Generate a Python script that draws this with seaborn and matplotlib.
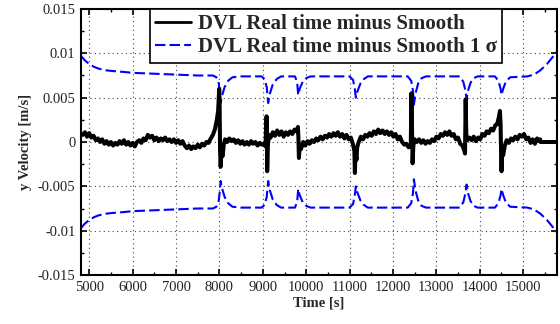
import numpy as np
import pandas as pd
import matplotlib
matplotlib.use("Agg")
import matplotlib.pyplot as plt
import matplotlib.ticker as mticker
from matplotlib.lines import Line2D
import seaborn as sns

# ---- data ----
time_s = [4850, 4900, 4950, 5000, 5050, 5100, 5150, 5200, 5250, 5300, 5350, 5400, 5450, 5500,
          5550, 5600, 5650, 5700, 5750, 5800, 5850, 5900, 5950, 6000, 6050, 6100, 6150, 6200,
          6250, 6300, 6350, 6400, 6450, 6500, 6550, 6600, 6650, 6700, 6750, 6800, 6850, 6900,
          6950, 7000, 7050, 7100, 7150, 7200, 7250, 7300, 7350, 7400, 7450, 7500, 7550, 7600,
          7650, 7700, 7750, 7800, 7850, 7900, 7940, 7970, 7995, 8005, 8015, 8028, 8045, 8074,
          8100, 8130, 8180, 8230, 8280, 8330, 8380, 8430, 8480, 8530, 8580, 8630, 8680, 8730,
          8780, 8830, 8880, 8930, 8980, 9030, 9060, 9087, 9095, 9101, 9115, 9140, 9180, 9230,
          9280, 9330, 9380, 9430, 9480, 9530, 9580, 9630, 9680, 9730, 9780, 9810, 9820, 9832,
          9850, 9880, 9930, 9980, 10030, 10080, 10130, 10180, 10230, 10280, 10330, 10380, 10430,
          10480, 10530, 10580, 10630, 10680, 10730, 10780, 10830, 10880, 10930, 10980, 11030,
          11080, 11110, 11122, 11135, 11160, 11175, 11210, 11260, 11310, 11360, 11410, 11460,
          11510, 11560, 11610, 11660, 11710, 11760, 11810, 11860, 11910, 11960, 12010, 12060,
          12110, 12160, 12210, 12260, 12310, 12360, 12410, 12425, 12440, 12452, 12470, 12500,
          12550, 12600, 12650, 12700, 12750, 12800, 12850, 12900, 12950, 13000, 13050, 13100,
          13150, 13200, 13250, 13300, 13350, 13400, 13450, 13500, 13550, 13600, 13640, 13660,
          13675, 13690, 13710, 13760, 13810, 13860, 13910, 13960, 14010, 14060, 14110, 14160,
          14210, 14260, 14310, 14360, 14400, 14440, 14465, 14480, 14490, 14502, 14515, 14540,
          14578, 14620, 14670, 14720, 14770, 14820, 14870, 14920, 14970, 15020, 15070, 15120,
          15170, 15220, 15270, 15320, 15370, 15390, 15400, 15780]
diff_v = [0.0008, 0.0011, 0.0006, 0.0010, 0.0005, 0.0007, 0.0002, 0.0004, 0.0000, 0.0003, -0.0002,
          0.0001, -0.0003, 0.0000, -0.0004, -0.0001, -0.0003, 0.0001, -0.0002, 0.0002, -0.0003,
          0.0000, -0.0004, -0.0001, -0.0005, 0.0000, 0.0002, -0.0001, 0.0004, 0.0002, 0.0008,
          0.0005, 0.0007, 0.0002, 0.0005, 0.0001, 0.0004, 0.0002, 0.0005, 0.0001, 0.0003, 0.0000,
          0.0003, -0.0001, 0.0002, -0.0002, 0.0001, -0.0004, -0.0007, -0.0004, -0.0008, -0.0005,
          -0.0007, -0.0003, -0.0006, -0.0002, -0.0004, 0.0000, -0.0001, 0.0004, 0.0008, 0.0015,
          0.0025, 0.0035, 0.0060, 0.0040, -0.0010, -0.0028, -0.0012, -0.0016, -0.0003, 0.0003,
          0.0000, 0.0004, 0.0001, 0.0003, -0.0001, 0.0002, -0.0002, 0.0001, -0.0003, 0.0000,
          -0.0003, 0.0001, -0.0002, 0.0000, -0.0004, -0.0001, -0.0003, -0.0002, -0.0005, 0.0029,
          0.0010, -0.0033, -0.0005, 0.0008, 0.0005, 0.0011, 0.0007, 0.0013, 0.0008, 0.0012,
          0.0006, 0.0011, 0.0008, 0.0012, 0.0009, 0.0014, 0.0012, 0.0017, 0.0005, -0.0018,
          -0.0004, -0.0008, 0.0000, -0.0004, 0.0001, -0.0002, 0.0002, 0.0000, 0.0004, 0.0002,
          0.0006, 0.0003, 0.0007, 0.0005, 0.0009, 0.0006, 0.0010, 0.0007, 0.0011, 0.0006, 0.0009,
          0.0004, 0.0008, 0.0003, 0.0005, -0.0003, -0.0010, -0.0035, -0.0012, -0.0020, -0.0006,
          0.0000, 0.0006, 0.0003, 0.0008, 0.0006, 0.0010, 0.0007, 0.0012, 0.0009, 0.0014, 0.0010,
          0.0013, 0.0009, 0.0012, 0.0008, 0.0011, 0.0006, 0.0009, 0.0003, 0.0006, 0.0000,
          -0.0003, -0.0002, -0.0006, -0.0004, 0.0055, 0.0010, -0.0024, -0.0004, 0.0003, 0.0000,
          0.0003, -0.0001, 0.0002, -0.0002, 0.0001, -0.0001, 0.0003, 0.0001, 0.0006, 0.0004,
          0.0009, 0.0007, 0.0011, 0.0008, 0.0012, 0.0007, 0.0009, 0.0003, 0.0005, -0.0002,
          -0.0004, -0.0009, -0.0013, 0.0048, 0.0008, 0.0002, 0.0005, 0.0002, 0.0006, 0.0001,
          0.0005, 0.0003, 0.0009, 0.0007, 0.0012, 0.0010, 0.0015, 0.0013, 0.0019, 0.0020, 0.0028,
          0.0035, 0.0020, -0.0010, -0.0033, -0.0010, -0.0015, -0.0004, 0.0002, -0.0001, 0.0004,
          0.0002, 0.0006, 0.0003, 0.0008, 0.0006, 0.0009, 0.0003, 0.0005, -0.0001, 0.0003,
          -0.0002, 0.0004, 0.0001, 0.0003, 0.0000, 0.0000]

sigma_t = [4810, 4900, 5000, 5100, 5200, 5350, 5550, 5800, 6000, 6500, 7000, 7500, 7850, 7930,
           7980, 8010, 8028, 8060, 8120, 8200, 8300, 8500, 8970, 9040, 9090, 9124, 9160, 9230,
           9320, 9420, 9740, 9790, 9816, 9850, 9920, 10000, 10100, 11000, 11080, 11120, 11145,
           11180, 11250, 11330, 11420, 12340, 12420, 12460, 12482, 12520, 12580, 12660, 12760,
           13540, 13620, 13670, 13696, 13730, 13790, 13860, 13950, 14350, 14430, 14480, 14502,
           14540, 14600, 14700, 15100, 15250, 15400, 15550, 15650, 15780]
sigma_v = [0.0097, 0.0092, 0.0088, 0.0085, 0.0083, 0.0081, 0.0080, 0.0079, 0.0078, 0.0077,
           0.0076, 0.0075, 0.0075, 0.0073, 0.0068, 0.0055, 0.0044, 0.0052, 0.0062, 0.0069,
           0.0073, 0.0074, 0.0074, 0.0071, 0.0062, 0.0044, 0.0054, 0.0065, 0.0071, 0.0074,
           0.0074, 0.0068, 0.0053, 0.0060, 0.0068, 0.0072, 0.0074, 0.0074, 0.0070, 0.0060,
           0.0050, 0.0057, 0.0066, 0.0071, 0.0074, 0.0074, 0.0069, 0.0058, 0.0042, 0.0055,
           0.0066, 0.0072, 0.0074, 0.0074, 0.0068, 0.0058, 0.0048, 0.0058, 0.0067, 0.0072,
           0.0074, 0.0074, 0.0069, 0.0060, 0.0053, 0.0060, 0.0068, 0.0073, 0.0074, 0.0076,
           0.0081, 0.0088, 0.0094, 0.0102]

x_ticks = [5000, 6000, 7000, 8000, 9000, 10000, 11000, 12000, 13000, 14000, 15000]
y_ticks = [-0.015, -0.01, -0.005, 0, 0.005, 0.01, 0.015]
legend_labels = ["DVL Real time minus Smooth", "DVL Real time minus Smooth 1 \u03c3"]

# ---- plot ----
sns.set_theme(style="white")
plt.rcParams['font.family'] = ['Liberation Serif', 'DejaVu Serif']

fig = plt.figure(figsize=(5.6, 3.24), dpi=100)
ax = fig.add_axes([81 / 560, 49 / 324, 476 / 560, 266 / 324])

blue = "#0000ff"
df_d = pd.DataFrame({"t": time_s, "v": diff_v})
df_s = pd.DataFrame({"t": sigma_t, "up": sigma_v, "lo": [-s for s in sigma_v]})

sns.lineplot(data=df_s, x="t", y="up", ax=ax, color=blue, linewidth=1.5,
             estimator=None, sort=False)
sns.lineplot(data=df_s, x="t", y="lo", ax=ax, color=blue, linewidth=1.5,
             estimator=None, sort=False)
for ln in ax.get_lines():
    ln.set_dashes((5, 2))
sns.lineplot(data=df_d, x="t", y="v", ax=ax, color="black", linewidth=2.9,
             estimator=None, sort=False)

ax.set_xlim(4810, 15780)
ax.set_ylim(-0.015, 0.015)
ax.set_xticks(x_ticks)
ax.set_yticks(y_ticks)
ax.xaxis.set_minor_locator(mticker.MultipleLocator(500))
ax.yaxis.set_minor_locator(mticker.MultipleLocator(0.0025))
ax.yaxis.set_major_formatter(mticker.FuncFormatter(lambda v, p: "0" if abs(v) < 1e-12 else f"{v:g}"))
ax.tick_params(which="both", direction="in", top=True, right=True, bottom=True, left=True,
               color="black", labelsize=10.5, labelcolor="#222222", pad=4)
ax.tick_params(which="major", length=4, width=1.2)
ax.tick_params(which="minor", length=2.5, width=1.0)
ax.grid(True, which="major", color="#444444", linestyle=(0, (1, 3)), linewidth=0.8)
for sp in ax.spines.values():
    sp.set_color("black")
    sp.set_linewidth(1.5)

ax.set_xlabel("Time [s]", fontweight="bold", fontsize=10.5, labelpad=2)
ax.set_ylabel("y Velocity [m/s]", fontweight="bold", fontsize=10.5, labelpad=4)

handles = [Line2D([], [], color="black", linewidth=2),
           Line2D([], [], color=blue, linewidth=1.5, dashes=(5, 2))]
leg = ax.legend(handles, legend_labels, loc="upper left", bbox_to_anchor=(0.145, 1.0),
                borderaxespad=0, frameon=True, fancybox=False, framealpha=1,
                edgecolor="black", prop={"weight": "bold", "size": 15},
                handlelength=1.7, handletextpad=0.35, labelspacing=0.15, borderpad=0.25)
leg.get_frame().set_linewidth(1.2)

fig.savefig("out.png", dpi=100)
